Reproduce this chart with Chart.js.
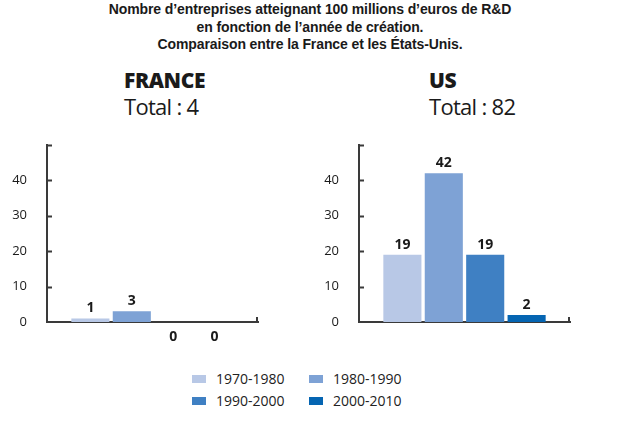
<!DOCTYPE html>
<html>
<head>
<meta charset="utf-8">
<script src="https://cdn.jsdelivr.net/npm/chart.js@4.4.0/dist/chart.umd.min.js"></script>
<style>
  body { margin:0; background:#fff; }
  #page { position:relative; width:620px; height:423px; overflow:hidden; font-family:'Open Sans', sans-serif; color:#222; }
  #title { position:absolute; left:0; top:1px; width:620px; text-align:center; font-family:'Liberation Sans Narrow','Liberation Sans',sans-serif; font-weight:bold; font-size:14px; line-height:17.5px; color:#1a1a1a; letter-spacing:-0.1px; }
  .head { position:absolute; top:68px; color:#1a1a1a; }
  .head .country { font-weight:800; font-size:21px; line-height:25px; letter-spacing:-0.4px; }
  .head .total { font-size:22px; line-height:26px; letter-spacing:-0.7px; }
  .box { position:absolute; top:125px; width:270px; height:225px; }
  #legend { position:absolute; left:192px; top:369px; width:260px; display:grid; grid-template-columns:117px 130px; row-gap:3px; font-size:14px; line-height:19px; }
  #legend .item { display:flex; align-items:center; }
  #legend .sw { width:14px; height:8px; margin-right:10px; }
</style>
</head>
<body>
<div id="page">
  <div id="title">Nombre d’entreprises atteignant 100 millions d’euros de R&amp;D<br>en fonction de l’année de création.<br>Comparaison entre la France et les États-Unis.</div>
  <div class="head" style="left:124px"><div class="country">FRANCE</div><div class="total">Total : 4</div></div>
  <div class="head" style="left:429px"><div class="country">US</div><div class="total">Total : 82</div></div>
  <div class="box" style="left:0"><canvas id="chart-fr"></canvas></div>
  <div class="box" style="left:312px"><canvas id="chart-us"></canvas></div>
  <div id="legend"></div>
</div>
<script>
// periods of company creation
const periods = ['1970-1980', '1980-1990', '1990-2000', '2000-2010'];
const franceValues = [1, 3, 0, 0];
const usValues = [19, 42, 19, 2];
const yTicks = [0, 10, 20, 30, 40];
const yMax = 50;

const COLORS = ['#b8c8e6', '#7ea2d5', '#3f80c3', '#0565b2'];
const AXIS_COLOR = '#3a3a3a';

// bar values above the bars, zeros under the axis
const valueLabels = {
  id: 'valueLabels',
  afterDatasetsDraw(chart) {
    const ctx = chart.ctx;
    ctx.save();
    ctx.font = "bold 14px 'Open Sans'";
    ctx.fillStyle = '#1a1a1a';
    ctx.textAlign = 'center';
    ctx.textBaseline = 'alphabetic';
    chart.data.datasets.forEach((ds, i) => {
      chart.getDatasetMeta(i).data.forEach((bar, j) => {
        const v = ds.data[j];
        if (v === 0) ctx.fillText(v, bar.x, bar.y + 19);
        else ctx.fillText(v, bar.x, bar.y - 6);
      });
    });
    ctx.restore();
  }
};

// small tick marks pointing inside the plot
const innerTicks = {
  id: 'innerTicks',
  afterDraw(chart) {
    const { ctx, chartArea } = chart;
    const y = chart.scales.y;
    ctx.save();
    ctx.strokeStyle = AXIS_COLOR;
    ctx.lineWidth = 2;
    ctx.beginPath();
    y.ticks.forEach(t => {
      if (t.value === 0) return;
      const py = Math.round(y.getPixelForValue(t.value)) + 0.5;
      ctx.moveTo(chartArea.left, py);
      ctx.lineTo(chartArea.left + 5, py);
    });
    ctx.moveTo(chartArea.right - 1, chartArea.bottom);
    ctx.lineTo(chartArea.right - 1, chartArea.bottom - 5);
    ctx.stroke();
    ctx.restore();
  }
};

function makeChart(id, name, values) {
  return new Chart(document.getElementById(id), {
    type: 'bar',
    data: {
      labels: [name],
      datasets: periods.map((p, i) => ({
        label: p,
        data: [values[i]],
        backgroundColor: COLORS[i],
        borderWidth: 0,
        barPercentage: 0.92,
        categoryPercentage: 0.785
      }))
    },
    options: {
      responsive: true,
      maintainAspectRatio: false,
      animation: false,
      layout: { padding: { top: 1, right: 12, bottom: 28, left: 0 } },
      plugins: { legend: { display: false }, tooltip: { enabled: false } },
      scales: {
        x: {
          grid: { display: false },
          border: { display: true, color: AXIS_COLOR, width: 2 },
          ticks: { display: false },
          afterFit: s => { s.height = 0; }
        },
        y: {
          min: 0, max: yMax,
          grid: { display: false },
          border: { display: true, color: AXIS_COLOR, width: 2 },
          ticks: {
            stepSize: 10, padding: 12, color: '#1a1a1a',
            font: { family: "'Open Sans'", size: 13 },
            callback: v => yTicks.includes(v) ? v : ''
          },
          afterFit: s => { s.width = 47; }
        }
      }
    },
    plugins: [valueLabels, innerTicks]
  });
}

makeChart('chart-fr', 'FRANCE', franceValues);
makeChart('chart-us', 'US', usValues);

// shared legend
const legend = document.getElementById('legend');
periods.forEach((p, i) => {
  const item = document.createElement('div');
  item.className = 'item';
  item.innerHTML = '<span class="sw" style="background:' + COLORS[i] + '"></span><span>' + p + '</span>';
  legend.appendChild(item);
});
</script>
</body>
</html>
